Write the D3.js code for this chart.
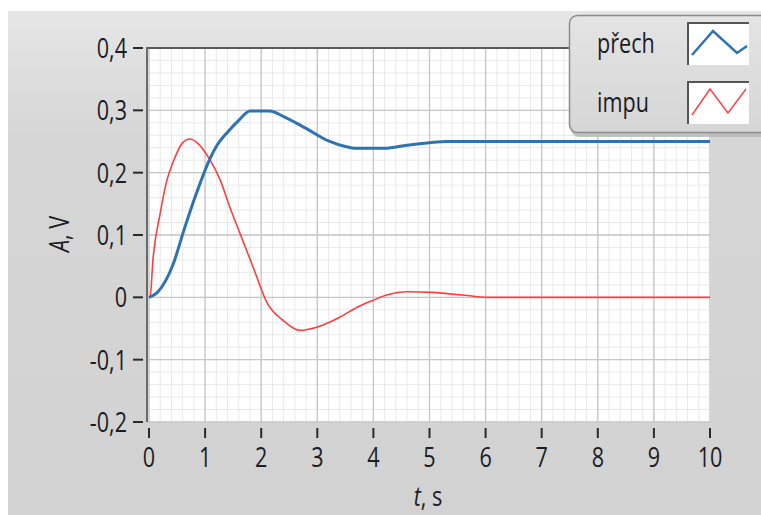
<!DOCTYPE html>
<html>
<head>
<meta charset="utf-8">
<script src="https://d3js.org/d3.v7.min.js"></script>
<style>
	body { margin: 0; background: #fff; }
	.lbl { font-family: 'Open Sans', 'Noto Sans', sans-serif; font-size: 27px; fill: #1c1c24; }
	.grid-minor { stroke: #e9e9e9; stroke-width: 1px; }
	.grid-major { stroke: #c6c6c6; stroke-width: 1.3px; }
	.tick { stroke: #2a2a2a; stroke-width: 2px; }
</style>
</head>
<body>
<script>

//////////////////////////// Data ////////////////////////////
var stepT = [0, 0.15, 0.43, 0.62, 0.85, 1.05, 1.2, 1.4, 1.6, 1.8, 2.15, 2.4, 2.8, 3.2, 3.5, 3.7, 4.2, 4.6, 5.0, 5.3, 10];
var stepV = [0, 0.008, 0.053, 0.107, 0.168, 0.215, 0.242, 0.265, 0.284, 0.299, 0.299, 0.29, 0.271, 0.251, 0.242, 0.239, 0.239, 0.244, 0.248, 0.25, 0.25];

var impT = [0, 0.02, 0.07, 0.2, 0.32, 0.43, 0.59, 0.73, 0.87, 1.09, 1.27, 1.44, 1.62, 1.85, 2.1, 2.39, 2.69, 2.99, 3.4, 3.71, 3.99, 4.25, 4.6, 5.06, 5.31, 5.67, 6.02, 10];
var impV = [0, 0.0, 0.06, 0.135, 0.188, 0.217, 0.247, 0.254, 0.247, 0.22, 0.188, 0.145, 0.103, 0.05, -0.008, -0.037, -0.053, -0.048, -0.032, -0.016, -0.005, 0.004, 0.009, 0.008, 0.006, 0.003, 0, 0];

var xTicks = [0, 1, 2, 3, 4, 5, 6, 7, 8, 9, 10];
var yTicks = [-0.2, -0.1, 0, 0.1, 0.2, 0.3, 0.4];
var legendNames = ["přech", "impu"];
var seriesColors = ["#2f72b4", "#ff3d3d"];

//////////////////////////// Setup ////////////////////////////
var W = 761, H = 515;
var svg = d3.select("body").append("svg").attr("width", W).attr("height", H);
var defs = svg.append("defs");

var bg = defs.append("linearGradient").attr("id", "bg").attr("x1", 0).attr("y1", 0).attr("x2", 0).attr("y2", 1);
bg.append("stop").attr("offset", "0%").attr("stop-color", "#e6e6e6");
bg.append("stop").attr("offset", "25%").attr("stop-color", "#d6d6d6");
bg.append("stop").attr("offset", "100%").attr("stop-color", "#d2d2d2");

var lg = defs.append("linearGradient").attr("id", "lg").attr("x1", 0).attr("y1", 0).attr("x2", 0).attr("y2", 1);
lg.append("stop").attr("offset", "0%").attr("stop-color", "#e4e4e4");
lg.append("stop").attr("offset", "100%").attr("stop-color", "#d6d6d6");

svg.append("rect").attr("x", 8).attr("y", 11).attr("width", W - 8).attr("height", H - 11).attr("fill", "url(#bg)");

var x = d3.scaleLinear().domain([0, 10]).range([149, 710]);
var y = d3.scaleLinear().domain([-0.2, 0.4]).range([422, 48]);

//plot background
svg.append("rect").attr("x", 148).attr("y", 48).attr("width", 563).attr("height", 374).attr("fill", "#fff");

//////////////////////////// Grid ////////////////////////////
var minorX = d3.range(0, 10.001, 0.2), minorY = d3.range(-0.2, 0.4001, 0.02);
var grid = svg.append("g");
grid.selectAll(".mx").data(minorX).enter().append("line").attr("class", "grid-minor")
	.attr("x1", function(d) { return x(d); }).attr("x2", function(d) { return x(d); })
	.attr("y1", 48).attr("y2", 422);
grid.selectAll(".my").data(minorY).enter().append("line").attr("class", "grid-minor")
	.attr("y1", function(d) { return y(d); }).attr("y2", function(d) { return y(d); })
	.attr("x1", 148).attr("x2", 711);
grid.selectAll(".Mx").data(xTicks).enter().append("line").attr("class", "grid-major")
	.attr("x1", function(d) { return x(d); }).attr("x2", function(d) { return x(d); })
	.attr("y1", 48).attr("y2", 422);
grid.selectAll(".My").data(yTicks).enter().append("line").attr("class", "grid-major")
	.attr("y1", function(d) { return y(d); }).attr("y2", function(d) { return y(d); })
	.attr("x1", 148).attr("x2", 711);

//frame: dark top + left
svg.append("line").attr("x1", 147).attr("x2", 711).attr("y1", 48).attr("y2", 48).attr("stroke", "#5a5a5a").attr("stroke-width", 2);
svg.append("line").attr("x1", 147).attr("x2", 147).attr("y1", 47).attr("y2", 422).attr("stroke", "#6a6a6a").attr("stroke-width", 2);

//////////////////////////// Axes ////////////////////////////
function label(g, tx, ty, txt, anchor) {
	return g.append("text").attr("class", "lbl")
		.attr("transform", "translate(" + tx + "," + ty + ") scale(0.8,1)")
		.attr("text-anchor", anchor).text(txt);
}

var fmt = function(d) { return d3.format(".1f")(d).replace(".", ",").replace("−", "-"); };

var yAxis = svg.append("g");
yTicks.forEach(function(d) {
	yAxis.append("line").attr("class", "tick").attr("x1", 133).attr("x2", 143).attr("y1", y(d)).attr("y2", y(d));
	label(yAxis, 127, y(d) + 10, d === 0 ? "0" : fmt(d), "end");
});

var xAxis = svg.append("g");
xTicks.forEach(function(d) {
	xAxis.append("line").attr("class", "tick").attr("x1", x(d)).attr("x2", x(d)).attr("y1", 428).attr("y2", 438);
	label(xAxis, x(d), 467, d, "middle");
});

var xl = svg.append("text").attr("class", "lbl").attr("text-anchor", "middle")
	.attr("transform", "translate(428,506) scale(0.8,1)");
xl.append("tspan").style("font-style", "italic").text("t");
xl.append("tspan").text(", s");

var yl = svg.append("text").attr("class", "lbl").attr("text-anchor", "middle")
	.attr("transform", "translate(69,234) rotate(-90) scale(0.8,1)");
yl.append("tspan").style("font-style", "italic").text("A");
yl.append("tspan").text(", V");

//////////////////////////// Lines ////////////////////////////
var line = d3.line().x(function(d) { return x(d[0]); }).y(function(d) { return y(d[1]); }).curve(d3.curveMonotoneX);

svg.append("path").datum(d3.zip(impT, impV)).attr("d", line)
	.attr("fill", "none").attr("stroke", seriesColors[1]).attr("stroke-width", 1.6);
svg.append("path").datum(d3.zip(stepT, stepV)).attr("d", line)
	.attr("fill", "none").attr("stroke", seriesColors[0]).attr("stroke-width", 3);

//////////////////////////// Legend ////////////////////////////
var leg = svg.append("g");
leg.append("rect").attr("x", 571).attr("y", 18).attr("width", 220).attr("height", 119).attr("rx", 8)
	.attr("fill", "#b4b4b4").attr("opacity", 0.8);
leg.append("rect").attr("x", 569.5).attr("y", 15.5).attr("width", 220).attr("height", 117).attr("rx", 8)
	.attr("fill", "url(#lg)").attr("stroke", "#8c8c8c").attr("stroke-width", 1.5);

var swatchY = [23, 82];
var swLines = [
	[[692, 55], [713, 31], [737, 53], [747, 46]],
	[[692, 115], [710, 89], [728, 113], [746, 89]]
];
legendNames.forEach(function(n, i) {
	label(leg, 597, swatchY[i] + 30, n, "start");
	leg.append("rect").attr("x", 688).attr("y", swatchY[i]).attr("width", 61).attr("height", 42).attr("fill", "#fff");
	leg.append("path").attr("d", "M688," + (swatchY[i] + 42) + "V" + swatchY[i] + "H749")
		.attr("fill", "none").attr("stroke", "#555").attr("stroke-width", 2);
	leg.append("path").attr("d", d3.line()(swLines[i])).attr("fill", "none")
		.attr("stroke", seriesColors[i]).attr("stroke-width", i === 0 ? 2.5 : 1.4);
});
</script>
</body>
</html>
